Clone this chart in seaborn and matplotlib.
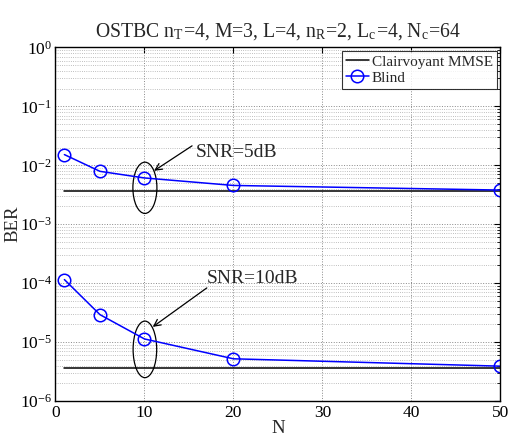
import numpy as np
import pandas as pd
import matplotlib
matplotlib.use("Agg")
import matplotlib.pyplot as plt
import seaborn as sns
from matplotlib.patches import Ellipse
from matplotlib.ticker import LogLocator, FixedLocator, NullLocator, NullFormatter

# ---- data ----
N_blind = [1, 5, 10, 20, 50]
ber_blind_5dB = [0.0152, 0.0079, 0.0061, 0.00455, 0.0038]
ber_blind_10dB = [1.15e-4, 2.92e-5, 1.13e-5, 5.2e-6, 3.9e-6]
N_mmse = [1, 50]
ber_mmse_5dB = [0.0037, 0.0037]
ber_mmse_10dB = [3.7e-6, 3.7e-6]
x_ticks = [0, 10, 20, 30, 40, 50]
title_text = r"OSTBC n$_\mathregular{T}$=4, M=3, L=4, n$_\mathregular{R}$=2, L$_\mathregular{c}$=4, N$_\mathregular{c}$=64"

sns.set_style("white")
plt.rcParams['font.family'] = ['Liberation Serif', 'DejaVu Serif']
plt.rcParams['mathtext.fontset'] = 'stix'

df_blind = pd.DataFrame({
    "N": N_blind * 2,
    "BER": ber_blind_5dB + ber_blind_10dB,
    "snr": ["5dB"] * 5 + ["10dB"] * 5,
})
df_mmse = pd.DataFrame({
    "N": N_mmse * 2,
    "BER": ber_mmse_5dB + ber_mmse_10dB,
    "snr": ["5dB"] * 2 + ["10dB"] * 2,
})

fig = plt.figure(figsize=(5.09, 4.37), dpi=100)
ax = fig.add_axes([0.109, 0.0824, 0.874, 0.809])

for i, snr in enumerate(["5dB", "10dB"]):
    sub = df_mmse[df_mmse.snr == snr]
    sns.lineplot(data=sub, x="N", y="BER", ax=ax, color="black", linewidth=1.1,
                 label="Clairvoyant MMSE" if i == 0 else None, legend=False)
for i, snr in enumerate(["5dB", "10dB"]):
    sub = df_blind[df_blind.snr == snr]
    sns.lineplot(data=sub, x="N", y="BER", ax=ax, color="blue", linewidth=1.1,
                 marker="o", markersize=9, markerfacecolor="none",
                 markeredgecolor="blue", markeredgewidth=1.1,
                 label="Blind" if i == 0 else None, legend=False)

ax.set_yscale("log")
ax.set_xlim(0, 50)
ax.set_ylim(1e-6, 1)
ax.xaxis.set_major_locator(FixedLocator(x_ticks))
ax.xaxis.set_minor_locator(NullLocator())
ax.yaxis.set_major_locator(LogLocator(base=10, numticks=10))
ax.yaxis.set_minor_locator(LogLocator(base=10, subs=np.arange(2, 10), numticks=20))
ax.yaxis.set_minor_formatter(NullFormatter())

ax.grid(True, which="major", linestyle=":", color="#888888", linewidth=0.7)
ax.grid(True, which="minor", axis="y", linestyle=":", color="#aaaaaa", linewidth=0.6)

ax.tick_params(axis="both", which="both", direction="in", top=True, right=True,
               labelsize=12.5, colors="black")
ax.tick_params(axis="both", which="major", length=4, width=0.8, pad=3)
ax.tick_params(axis="y", which="major", pad=2.5)
ax.tick_params(axis="y", which="minor", length=2, width=0.6)
for s in ax.spines.values():
    s.set_color("black")
    s.set_linewidth(1.0)

ax.set_xlabel("N", fontsize=13.5, labelpad=-1)
ax.set_ylabel("BER", fontsize=13.5)
ax.yaxis.set_label_coords(-0.076, 0.5)
ax.set_title(title_text, fontsize=14.2, pad=8)

leg = ax.legend(loc="upper right", fontsize=11, frameon=True, fancybox=False,
                borderaxespad=0.25, handlelength=1.5, handletextpad=0.2,
                borderpad=0.25, labelspacing=0.15)
leg.get_frame().set_edgecolor("black")
leg.get_frame().set_linewidth(0.8)

# annotations
ell_kw = dict(transform=ax.transAxes, fill=False, edgecolor="black", linewidth=0.9)
ax.add_patch(Ellipse((0.201, 0.603), 0.054, 0.145, **ell_kw))
ax.add_patch(Ellipse((0.201, 0.146), 0.053, 0.160, **ell_kw))

arrow_kw = dict(arrowstyle="->", color="black", lw=0.9, mutation_scale=12,
                shrinkA=0, shrinkB=0)
ax.annotate("", xy=(11.08, 0.00807), xytext=(15.35, 0.0214), arrowprops=arrow_kw)
ax.annotate("", xy=(10.93, 1.81e-5), xytext=(17.01, 8.3e-5), arrowprops=arrow_kw)
ax.text(15.8, 0.0163, "SNR=5dB", fontsize=14, ha="left", va="center")
ax.text(17.0, 1.19e-4, "SNR=10dB", fontsize=14, ha="left", va="center")

fig.savefig("out.png", dpi=100)
